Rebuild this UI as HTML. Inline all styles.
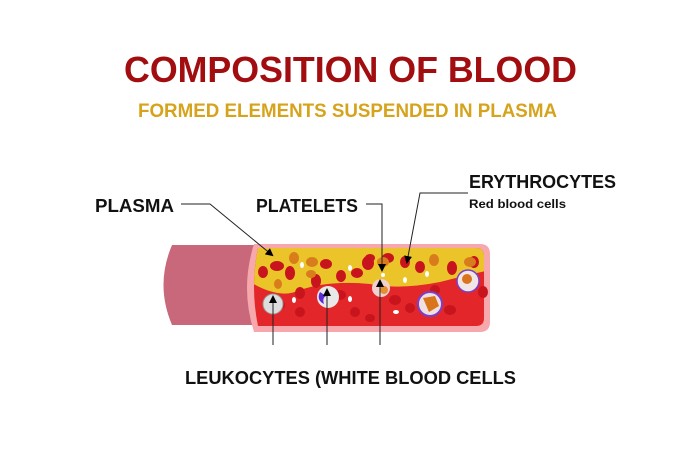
<!DOCTYPE html>
<html><head><meta charset="utf-8"><style>
html,body{margin:0;padding:0;background:#fff;}
svg{display:block;}
text{font-family:"Liberation Sans",sans-serif;font-weight:bold;}
</style></head><body>
<svg width="700" height="467" viewBox="0 0 700 467" xmlns="http://www.w3.org/2000/svg">
<defs>
<marker id="ah" markerWidth="8" markerHeight="8" refX="6" refY="4" orient="auto" markerUnits="userSpaceOnUse">
<path d="M0,0 L8,4 L0,8 Z" fill="#000"/></marker>
<clipPath id="cs"><path d="M258,248 H476 Q484,248 484,256 V318 Q484,326 476,326 H258 Q250,287 258,248 Z"/></clipPath>
</defs>
<rect width="700" height="467" fill="#fff"/>
<text x="124" y="82" font-size="36" fill="#a20d0f" textLength="453" lengthAdjust="spacingAndGlyphs">COMPOSITION OF BLOOD</text>
<text x="138" y="117" font-size="19" fill="#d6a31c" textLength="419" lengthAdjust="spacingAndGlyphs">FORMED ELEMENTS SUSPENDED IN PLASMA</text>

<text x="95" y="212" font-size="18" fill="#111" textLength="79" lengthAdjust="spacingAndGlyphs">PLASMA</text>
<text x="256" y="212" font-size="18" fill="#111" textLength="102" lengthAdjust="spacingAndGlyphs">PLATELETS</text>
<text x="469" y="188" font-size="18" fill="#111" textLength="147" lengthAdjust="spacingAndGlyphs">ERYTHROCYTES</text>
<text x="469" y="208" font-size="12" fill="#111" textLength="97" lengthAdjust="spacingAndGlyphs">Red blood cells</text>
<text x="185" y="384" font-size="18" fill="#111" textLength="331" lengthAdjust="spacingAndGlyphs">LEUKOCYTES (WHITE BLOOD CELLS</text>

<!-- outer tube -->
<path d="M172,245 H262 V325 H172 Q155,285 172,245 Z" fill="#c9687a"/>
<!-- cross section -->
<path d="M254,244 H480 Q490,244 490,254 V322 Q490,332 480,332 H254 Q240,288 254,244 Z" fill="#f6a8ad"/>
<g clip-path="url(#cs)">
<rect x="240" y="240" width="260" height="100" fill="#e3262a"/>
<path d="M240,240 H500 V268 Q470,274 440,282 Q400,290 370,284 Q330,280 300,290 Q280,300 250,282 Z" fill="#ebc42a"/>
<!-- RBCs -->
<g fill="#c8141c">
<ellipse cx="263" cy="272" rx="5" ry="6"/><ellipse cx="277" cy="266" rx="7" ry="5"/>
<ellipse cx="290" cy="273" rx="5" ry="7"/><ellipse cx="316" cy="281" rx="5" ry="7"/>
<ellipse cx="326" cy="264" rx="6" ry="5"/><ellipse cx="341" cy="276" rx="5" ry="6"/>
<ellipse cx="357" cy="273" rx="6" ry="5"/><ellipse cx="368" cy="263" rx="6" ry="7"/>
<ellipse cx="370" cy="258" rx="5" ry="4"/><ellipse cx="388" cy="258" rx="6" ry="5"/>
<ellipse cx="405" cy="262" rx="5" ry="6"/><ellipse cx="420" cy="267" rx="5" ry="6"/>
<ellipse cx="452" cy="268" rx="5" ry="7"/><ellipse cx="474" cy="262" rx="5" ry="6"/>
<ellipse cx="300" cy="293" rx="5" ry="6"/><ellipse cx="340" cy="295" rx="6" ry="5"/>
<ellipse cx="355" cy="312" rx="5" ry="5"/><ellipse cx="300" cy="312" rx="5" ry="5"/>
<ellipse cx="395" cy="300" rx="6" ry="5"/><ellipse cx="410" cy="308" rx="5" ry="5"/>
<ellipse cx="450" cy="310" rx="6" ry="5"/><ellipse cx="435" cy="290" rx="5" ry="5"/>
<ellipse cx="280" cy="305" rx="5" ry="5"/><ellipse cx="370" cy="318" rx="5" ry="4"/>
</g>
<g fill="#d97c1c">
<ellipse cx="294" cy="258" rx="5" ry="6"/><ellipse cx="312" cy="262" rx="6" ry="5"/>
<ellipse cx="311" cy="274" rx="5" ry="4"/><ellipse cx="383" cy="262" rx="6" ry="5"/>
<ellipse cx="434" cy="260" rx="5" ry="6"/><ellipse cx="470" cy="262" rx="6" ry="5"/>
<ellipse cx="278" cy="284" rx="4" ry="5"/>
</g>
<g fill="#fff"><ellipse cx="302" cy="265" rx="2" ry="3"/><ellipse cx="350" cy="268" rx="2" ry="3"/>
<ellipse cx="383" cy="275" rx="2" ry="2"/><ellipse cx="405" cy="280" rx="2" ry="3"/>
<ellipse cx="350" cy="299" rx="2" ry="3"/><ellipse cx="294" cy="300" rx="2" ry="3"/>
<ellipse cx="396" cy="312" rx="3" ry="2"/><ellipse cx="427" cy="274" rx="2" ry="3"/></g>
<!-- WBCs -->
<circle cx="273" cy="304" r="10" fill="#ddd" stroke="#999" stroke-width="1"/>
<circle cx="328" cy="297" r="11" fill="#e8e8e8"/><path d="M320,292 q-4,8 4,12 q-2,-6 2,-8z" fill="#5a2bd6"/>
<circle cx="381" cy="288" r="9" fill="#f2d0d0"/><circle cx="384" cy="290" r="4" fill="#e29030"/>
<circle cx="430" cy="304" r="12" fill="#f0e0e0" stroke="#7a40c8" stroke-width="2"/><path d="M423,298 l12,-2 l4,10 l-10,6z" fill="#d8741c"/>
<circle cx="468" cy="281" r="11" fill="#f0e6e6" stroke="#7a40c8" stroke-width="1.5"/><circle cx="467" cy="279" r="5" fill="#d8741c"/>
</g>
<ellipse cx="483" cy="292" rx="5" ry="6" fill="#c8141c"/>

<!-- connectors -->
<g stroke="#222" stroke-width="1" fill="none">
<polyline points="181,204 210,204 272,255" marker-end="url(#ah)"/>
<polyline points="366,204 382,204 382,270" marker-end="url(#ah)"/>
<polyline points="468,193 420,193 407,262" marker-end="url(#ah)"/>
<line x1="273" y1="345" x2="273" y2="297" marker-end="url(#ah)"/>
<line x1="327" y1="345" x2="327" y2="290" marker-end="url(#ah)"/>
<line x1="380" y1="345" x2="380" y2="281" marker-end="url(#ah)"/>
</g>
</svg>
</body></html>
